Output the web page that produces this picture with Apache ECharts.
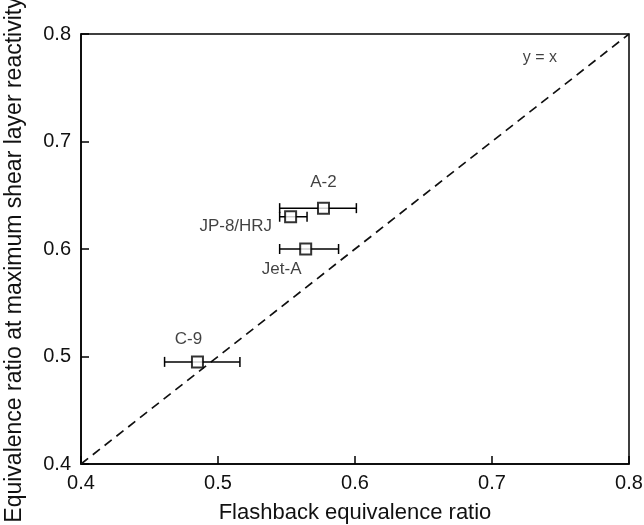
<!DOCTYPE html>
<html>
<head>
<meta charset="utf-8">
<script src="https://cdn.jsdelivr.net/npm/echarts@6/dist/echarts.min.js"></script>
<style>html,body{margin:0;padding:0;background:#fff;}#chart{width:644px;height:525px;}</style>
</head>
<body>
<div id="chart"></div>
<script>
// ---- data ----
const fuels = ['A-2', 'JP-8/HRJ', 'Jet-A', 'C-9'];
const flashbackPhi = [0.577, 0.553, 0.564, 0.485];
const reactivityPhi = [0.638, 0.630, 0.600, 0.495];
const errLow = [0.545, 0.545, 0.545, 0.461];
const errHigh = [0.601, 0.565, 0.588, 0.516];
const xTicks = [0.4, 0.5, 0.6, 0.7, 0.8];
const yTicks = [0.4, 0.5, 0.6, 0.7, 0.8];
const parityLine = [[0.4, 0.4], [0.8, 0.8]];
const parityLabel = 'y = x';
const parityLabelAt = [0.735, 0.778];

// ---- label placement (style) ----
const labelStyle = {
  'A-2': {position: 'top', distance: 11, offset: [0, 0]},
  'JP-8/HRJ': {position: 'left', distance: 12, offset: [0, 10]},
  'Jet-A': {position: 'bottom', distance: 5, offset: [-24, 0]},
  'C-9': {position: 'top', distance: 8, offset: [-9, 0]}
};

const font = 'Liberation Sans, Arial, sans-serif';
const chart = echarts.init(document.getElementById('chart'), null, {renderer: 'canvas'});

const pts = fuels.map((n, i) => ({
  value: [flashbackPhi[i], reactivityPhi[i]],
  name: n,
  label: Object.assign({show: true, formatter: n, color: '#111', fontSize: 17, fontFamily: font}, labelStyle[n])
}));

const errData = fuels.map((n, i) => [errLow[i], errHigh[i], reactivityPhi[i]]);

const axisCommon = {
  min: xTicks[0], max: xTicks[xTicks.length - 1], interval: xTicks[1] - xTicks[0],
  axisLine: {show: true, onZero: false, lineStyle: {color: '#000', width: 1.5}},
  axisTick: {show: true, inside: true, length: 8, lineStyle: {color: '#000', width: 1.5}},
  splitLine: {show: false},
  nameLocation: 'middle',
  nameTextStyle: {color: '#111', fontSize: 22, fontFamily: font}
};

chart.setOption({
  animation: false,
  grid: {left: 81, right: 15, top: 34, bottom: 61, outerBoundsMode: 'none', containLabel: false, show: true, borderColor: '#000', borderWidth: 1.5, backgroundColor: 'transparent'},
  xAxis: Object.assign({}, axisCommon, {
    type: 'value', name: 'Flashback equivalence ratio', nameGap: 38,
    axisLabel: {color: '#111', fontSize: 20, fontFamily: font, margin: 9, formatter: v => v.toFixed(1)}
  }),
  yAxis: Object.assign({}, axisCommon, {
    type: 'value', min: yTicks[0], max: yTicks[yTicks.length - 1], interval: yTicks[1] - yTicks[0],
    name: 'Equivalence ratio at maximum shear layer reactivity', nameGap: 55,
    nameTextStyle: {color: '#111', fontSize: 23, fontFamily: font, padding: [0, 22, 0, 0]},
    axisLabel: {color: '#111', fontSize: 20, fontFamily: font, margin: 10, formatter: v => v.toFixed(1)}
  }),
  series: [
    {
      type: 'line', data: parityLine, symbol: 'none', z: 1,
      lineStyle: {color: '#111', width: 1.7, type: [9, 6]}
    },
    {
      type: 'custom', z: 2,
      data: errData,
      renderItem: function (params, api) {
        const lo = api.coord([api.value(0), api.value(2)]);
        const hi = api.coord([api.value(1), api.value(2)]);
        const h = 5;
        const st = {stroke: '#000', lineWidth: 1.5};
        return {type: 'group', children: [
          {type: 'line', shape: {x1: lo[0], y1: lo[1], x2: hi[0], y2: hi[1]}, style: st},
          {type: 'line', shape: {x1: lo[0], y1: lo[1] - h, x2: lo[0], y2: lo[1] + h}, style: st},
          {type: 'line', shape: {x1: hi[0], y1: hi[1] - h, x2: hi[0], y2: hi[1] + h}, style: st}
        ]};
      }
    },
    {
      type: 'scatter', z: 3, data: pts,
      symbol: 'rect', symbolSize: 11,
      itemStyle: {color: '#fff', borderColor: '#000', borderWidth: 2}
    },
    {
      type: 'scatter', z: 3, data: [{value: parityLabelAt, label: {show: true, position: 'inside', formatter: parityLabel, color: '#111', fontSize: 16, fontFamily: font}}],
      symbolSize: 0, silent: true
    }
  ]
});
</script>
</body>
</html>
